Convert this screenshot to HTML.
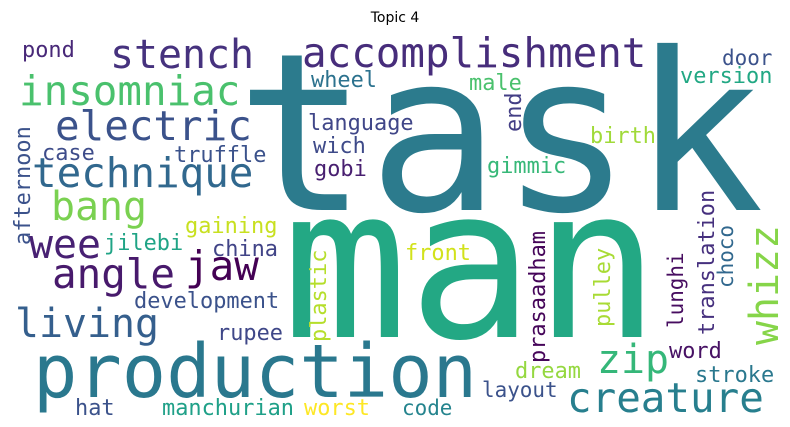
<!DOCTYPE html>
<html><head><meta charset="utf-8"><style>
html,body{margin:0;padding:0;background:#fff;}
svg{display:block;}
text{font-family:"DejaVu Sans Mono","Liberation Mono",monospace;}
</style></head><body>
<svg width="790" height="427" viewBox="0 0 790 427">
<text x="395" y="22" text-anchor="middle" font-size="14" fill="#000" style="font-family:'DejaVu Sans','Liberation Sans',sans-serif">Topic 4</text>
<g id="cloud"></g>
</svg>
<script>
const words = ["task","man","production","accomplishment","stench","insomniac","electric","technique","bang","wee","angle","jaw","living","creature","zip","whizz","pond","wheel","language","wich","gobi","case","truffle","gaining","jilebi","china","development","rupee","hat","manchurian","worst","code","layout","dream","word","stroke","male","door","version","birth","gimmic","front","end","plastic","prasaadham","pulley","lunghi","translation","choco","afternoon"];
const sizes = [220,210,74,41,40,41,41,41,40,40,41,41,40,41,40,40,22,22,22,22,22,22,22,22,22,22,22,22,22,22,22,21,21,22,22,22,22,21,22,22,22,22,22,22,22,22,21,22,21,22];
const posX = [236,282,33,302,110,19,55,32,51,29,52,185,15,567,597,778,22,311,308,313,314,42,174,185,104,212,134,217,75,162,304,402,482,515,669,695,469,722,680,590,487,405,521,326,545,610,683,714,733,30];
const posY = [210,337,397,67,68,105,140,187,220,258,288,280,337,412,373,345,57,87,130,153,176,160,162,233,250,256,308,340,415,415,415,415,397,378,358,382,90,65,83,143,173,260,132,342,363,327,328,335,288,245];
const rotated = [0,0,0,0,0,0,0,0,0,0,0,0,0,0,0,1,0,0,0,0,0,0,0,0,0,0,0,0,0,0,0,0,0,0,0,0,0,0,0,0,0,0,1,1,1,1,1,1,1,1];
const colors = ["#2c7b8d","#23a884","#2a788e","#472d7b","#46327e","#4ac16d","#3b528b","#31688e","#7ad151","#482173","#481a6c","#440154","#355f8d","#277f8e","#35b779","#86d549","#482878","#2c728e","#404688","#3e4a89","#481f70","#3e4c8a","#3b528b","#c8e020","#20a486","#414487","#3b528b","#3f4788","#3b528b","#1fa088","#fde725","#25848e","#3b528b","#95d840","#471164","#2a788e","#4ac16d","#3b528b","#22a884","#a0da39","#37b878","#d2e21b","#433e85","#b5de2b","#450559","#a8db34","#470d60","#46307e","#31688e","#3b528b"];
const g = document.getElementById('cloud');
const NS = 'http://www.w3.org/2000/svg';
for (let i = 0; i < words.length; i++) {
  const t = document.createElementNS(NS, 'text');
  
  
  t.setAttribute('font-size', sizes[i]);
  t.setAttribute('fill', colors[i]);
  t.setAttribute('textLength', (words[i].length * 0.6 * sizes[i]).toFixed(1));
  t.setAttribute('lengthAdjust', 'spacingAndGlyphs');
  if (rotated[i]) {
    t.setAttribute('transform', 'translate(' + posX[i] + ',' + posY[i] + ') rotate(-90)');
    t.setAttribute('x', 0); t.setAttribute('y', 0);
  } else {
    t.setAttribute('x', posX[i]); t.setAttribute('y', posY[i]);
  }
  t.textContent = words[i];
  g.appendChild(t);
}
</script>
</body></html>
